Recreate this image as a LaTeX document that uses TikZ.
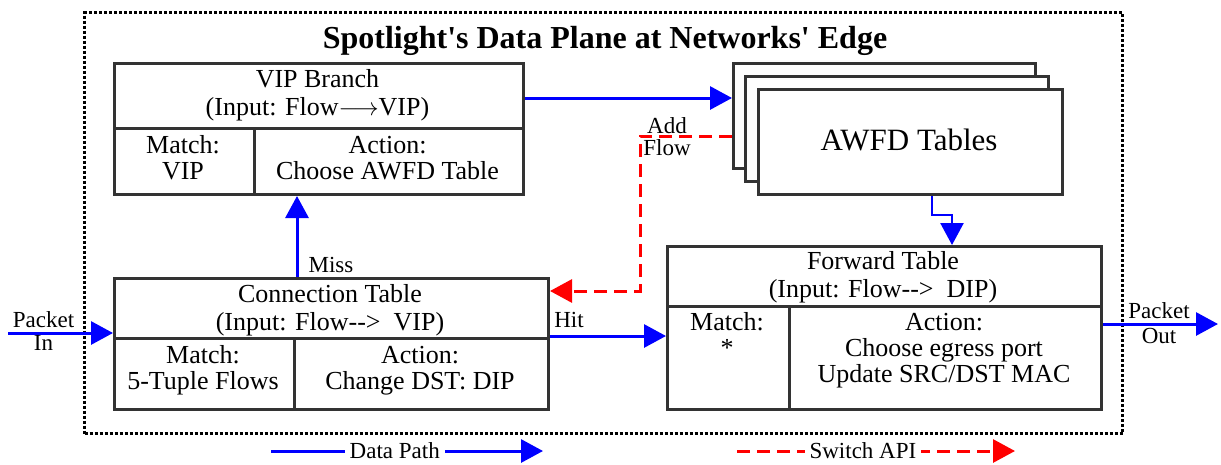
\documentclass[tikz,border=0pt]{standalone}
\usepackage{fontspec}
\setmainfont{Liberation Serif}
\usetikzlibrary{arrows.meta,calc}
\begin{document}
\begin{tikzpicture}[x=1pt,y=-1pt,
  tbox/.style={draw=black!80, line width=3pt, rectangle, inner sep=0pt, anchor=north west, fill=white},
  hdr/.style={anchor=base, align=center, font=\fontsize{26}{28}\selectfont, inner sep=0pt},
  cell/.style={anchor=base, align=center, font=\fontsize{26}{26}\selectfont, inner sep=0pt},
  lbl/.style={anchor=base, align=center, font=\fontsize{23}{23}\selectfont, inner sep=0pt},
  data/.style={draw=blue, line width=3pt, -{Triangle[length=22pt,width=23pt]}},
  api/.style={draw=red, line width=3pt, dash pattern=on 13pt off 7pt, -{Triangle[length=22pt,width=23pt]}},
  legtext/.style={fill=white, anchor=center, inner sep=5pt, font=\fontsize{23}{23}\selectfont},
]
\useasboundingbox (0,0) rectangle (1221,464);

% outer dotted frame
\node[draw=black, line width=3.2pt, dash pattern=on 3pt off 2pt, rectangle, inner sep=0pt,
      anchor=north west, minimum width=1038pt, minimum height=421pt] (frame) at (83,11) {};
\node[anchor=base, inner sep=0pt, font=\fontsize{32}{32}\selectfont\bfseries] (title) at (605,48)
  {Spotlight\textquotesingle s Data Plane at Networks\textquotesingle\ Edge};

% VIP Branch
\node[tbox, minimum width=409pt, minimum height=65pt] (vipH) at (113,62) {};
\node[tbox, minimum width=140pt, minimum height=66pt] (vipM) at (113,127) {};
\node[tbox, minimum width=269pt, minimum height=66pt] (vipA) at (253,127) {};
\node[hdr] (vipHT) at (317.5,115) {VIP Branch\\(Input: Flow$\longrightarrow$VIP)};
\node[cell] (vipMT) at (183,179) {Match:\\VIP};
\node[cell] (vipAT) at (387.5,179) {Action:\\Choose AWFD Table};

% Connection Table
\node[tbox, minimum width=434pt, minimum height=60pt] (connH) at (113,277) {};
\node[tbox, minimum width=180pt, minimum height=71pt] (connM) at (113,337) {};
\node[tbox, minimum width=254pt, minimum height=71pt] (connA) at (293,337) {};
\node[hdr] (connHT) at (330,330) {Connection Table\\(Input: Flow-{}->\ \ VIP)};
\node[cell] (connMT) at (203,389) {Match:\\5-Tuple Flows};
\node[cell] (connAT) at (420,389) {Action:\\Change DST: DIP};

% Forward Table
\node[tbox, minimum width=434pt, minimum height=60pt] (fwdH) at (666,245) {};
\node[tbox, minimum width=122pt, minimum height=103pt] (fwdM) at (666,305) {};
\node[tbox, minimum width=312pt, minimum height=103pt] (fwdA) at (788,305) {};
\node[hdr] (fwdHT) at (883,297) {Forward Table\\(Input: Flow-{}->\ \ DIP)};
\node[cell] (fwdMT) at (727,356) {Match:\\*};
\node[cell] (fwdAT) at (944,382) {Action:\\Choose egress port\\Update SRC/DST MAC};

% AWFD stack
\node[tbox, minimum width=302pt, minimum height=105pt] (awfd1) at (732,62) {};
\node[tbox, minimum width=303pt, minimum height=105pt] (awfd2) at (744,75) {};
\node[tbox, minimum width=304pt, minimum height=105pt] (awfd3) at (757,88) {};
\node[anchor=base, inner sep=0pt, font=\fontsize{31}{31}\selectfont] (awfdT) at (909,150) {AWFD Tables};

% connectors
\coordinate (vipOut) at ($(vipH.north east)+(0,36)$);
\draw[data] (vipOut) -- (vipOut -| awfd1.west);

\coordinate (addS) at ($(awfd1.north west)+(0,74)$);
\coordinate (bendA) at (640,291);
\draw[api] (addS) -| (bendA) -- (bendA -| connH.east);
\node[lbl, font=\fontsize{23}{22}\selectfont] (addL) at (667,155) {Add\\Flow};

\coordinate (missS) at ($(connH.north west)+(184,0)$);
\draw[data] (missS) -- (missS |- vipA.south);
\node[lbl] (missL) at (331,272) {Miss};

\coordinate (hitS) at ($(connH.south east)+(0,-4)$);
\draw[data] (hitS) -- (hitS -| fwdM.west);
\node[lbl] (hitL) at (569,327) {Hit};

\coordinate (pin) at (8,333);
\draw[data] (pin) -- (pin -| connH.west);
\node[lbl, font=\fontsize{23}{23}\selectfont] (pinL) at (43.5,350) {Packet\\In};

\coordinate (poS) at ($(fwdA.north east)+(0,19)$);
\coordinate (poE) at (1218,324);
\draw[data] (poS) -- (poE);
\node[lbl, font=\fontsize{23}{25}\selectfont] (poL) at (1159,343) {Packet\\Out};

\coordinate (awS) at ($(awfd3.south west)+(175,0)$);
\coordinate (awE) at ($(fwdH.north west)+(286,0)$);
\draw[data, line width=2.5pt] (awS) -- ++(0,19) -| (awE);

% legend
\coordinate (lgA) at (271,451);
\coordinate (lgB) at (543,451);
\draw[data] (lgA) -- node[legtext, pos=0.455] (lgAT) {Data Path} (lgB);
\coordinate (lgC) at (737,451);
\coordinate (lgD) at (1015,451);
\draw[api] (lgC) -- node[legtext, pos=0.453] (lgCT) {Switch API} (lgD);
\end{tikzpicture}
\end{document}
